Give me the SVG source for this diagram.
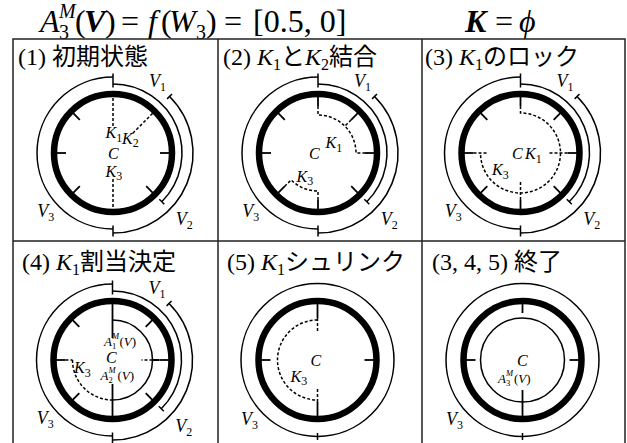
<svg xmlns="http://www.w3.org/2000/svg" width="627" height="443" viewBox="0 0 627 443">
<style>
.thick{fill:none;stroke:#000;stroke-width:6.5}
.thin{fill:none;stroke:#000;stroke-width:1.5}
.tk{fill:none;stroke:#000;stroke-width:1.8}
.dash{fill:none;stroke:#000;stroke-width:1.5;stroke-dasharray:3 2}
.grid{fill:none;stroke:#222;stroke-width:1.5}
text{font-family:"Liberation Serif",serif;fill:#000}
.i{font-style:italic}
.b{font-weight:bold}
.j{font-family:"Noto Sans CJK JP",sans-serif}
.t{font-size:24px}
.h{font-size:32px}
.hs{font-size:20px}
.v{font-size:18px}
.k{font-size:16px}
.s{font-size:12px}
.a{font-size:13px}
.as{font-size:8.5px}
</style>
<defs>
<circle id="ring" r="59" class="thick"/>
<g id="varcs">
<path class="thin" d="M0,-69A69,69 0 0 1 48.79,48.79"/>
<path class="thin" d="M56.57,-56.57A80,80 0 0 1 0,80"/>
<path class="thin" d="M0,76A76,76 0 0 1 0,-76"/>
<path class="thin" d="M0,-65.5V-72.5M46.3,46.3L51.3,51.3M54.1,-54.1L59.0,-59.0M0,76.5V83.5M0,-72.5V-79.5M0,72.5V79.5"/>
</g>
<path id="t45" class="tk" d="M33.2,-33.2L40.3,-40.3"/>
<path id="t90" class="tk" d="M47,0H57"/>
<path id="t135" class="tk" d="M33.2,33.2L40.3,40.3"/>
<path id="t225" class="tk" d="M-33.2,33.2L-40.3,40.3"/>
<path id="t270" class="tk" d="M-47,0H-57"/>
<path id="t315" class="tk" d="M-33.2,-33.2L-40.3,-40.3"/>
<path id="t0" class="tk" d="M0,-47V-57"/>
<path id="t180" class="tk" d="M0,47V57"/>
</defs>

<g id="header">
<text class="h i" x="40" y="32">A</text>
<text class="hs i" x="59" y="18">M</text>
<text class="hs" x="59" y="39">3</text>
<text class="h" x="75" y="32">(</text>
<text class="h i b" x="84" y="32">V</text>
<text class="h" x="105" y="32">)</text>
<text class="h" x="121" y="32">=</text>
<text class="h i" x="148" y="32">f</text>
<text class="h" x="161" y="32">(</text>
<text class="h i" x="169" y="32">W</text>
<text class="hs" x="196" y="39">3</text>
<text class="h" x="206" y="32">)</text>
<text class="h" x="224" y="32">=</text>
<text class="h" x="253" y="32">[0.5, 0]</text>
<text class="h i b" x="465" y="32">K</text>
<text class="h" x="495" y="32">=</text>
<text class="h i" x="519" y="32">ϕ</text>
</g>

<g id="table">
<path class="grid" d="M13,443V39H625V443M218,39V443M422,39V443M13,241H625"/>
</g>

<g id="cell1">
<text class="t" x="18" y="65">(1) <tspan class="j">初期状態</tspan></text>
<g transform="translate(113,153)">
<use href="#ring"/><use href="#varcs"/>
<use href="#t90"/><use href="#t135"/><use href="#t225"/><use href="#t270"/><use href="#t315"/>
<path class="dash" d="M0,-55V-26M0,26V55M39.6,-39.6L18.5,-18.5"/>
</g>
<text class="v" x="149" y="86.5"><tspan class="i">V</tspan><tspan class="s" dy="4">1</tspan></text>
<text class="v" x="175.7" y="225"><tspan class="i">V</tspan><tspan class="s" dy="4">2</tspan></text>
<text class="v" x="37.3" y="216.7"><tspan class="i">V</tspan><tspan class="s" dy="4">3</tspan></text>
<text class="k" x="105.5" y="138.3"><tspan class="i">K</tspan><tspan class="s" dy="3.5">1</tspan></text>
<text class="k" x="122" y="143.5"><tspan class="i">K</tspan><tspan class="s" dy="3.5">2</tspan></text>
<text class="k i" x="108" y="158.5">C</text>
<text class="k" x="105.5" y="176.5"><tspan class="i">K</tspan><tspan class="s" dy="3.5">3</tspan></text>
</g>

<g id="cell2">
<text class="t" x="223" y="65">(2) <tspan class="i">K</tspan><tspan font-size="16" dy="5">1</tspan><tspan class="j" dy="-5">と</tspan><tspan class="i">K</tspan><tspan font-size="16" dy="5">2</tspan><tspan class="j" dy="-5">結合</tspan></text>
<g transform="translate(318,153)">
<use href="#ring"/><use href="#varcs"/>
<use href="#t0"/><use href="#t45"/><use href="#t90"/><use href="#t135"/><use href="#t180"/><use href="#t225"/><use href="#t270"/><use href="#t315"/>
<path class="dash" d="M0,-47V-38A38,38 0 0 1 38,0H47M33.2,-33.2L26.9,-26.9"/>
<path class="dash" d="M0,47V38A38,38 0 0 1 -26.9,26.9L-33.2,33.2"/>
</g>
<text class="v" x="354" y="86.5"><tspan class="i">V</tspan><tspan class="s" dy="4">1</tspan></text>
<text class="v" x="380.7" y="225"><tspan class="i">V</tspan><tspan class="s" dy="4">2</tspan></text>
<text class="v" x="242.3" y="216.7"><tspan class="i">V</tspan><tspan class="s" dy="4">3</tspan></text>
<text class="k" x="325.5" y="148.3"><tspan class="i">K</tspan><tspan class="s" dy="3.5">1</tspan></text>
<text class="k i" x="309" y="159">C</text>
<text class="k" x="296.5" y="181.5"><tspan class="i">K</tspan><tspan class="s" dy="3.5">3</tspan></text>
</g>

<g id="cell3">
<text class="t" x="425" y="65">(3) <tspan class="i">K</tspan><tspan font-size="16" dy="5">1</tspan><tspan class="j" dy="-5">のロック</tspan></text>
<g transform="translate(520.5,153)">
<use href="#ring"/><use href="#varcs"/>
<use href="#t0"/><use href="#t45"/><use href="#t90"/><use href="#t135"/><use href="#t180"/><use href="#t225"/><use href="#t270"/><use href="#t315"/>
<path class="dash" d="M0,-47V-40A40,40 0 0 1 40,0A40,40 0 0 1 0,40A40,40 0 0 1 -40,0"/>
<path class="dash" d="M47,0H28M0,47V28M-47,0H-32"/>
</g>
<text class="v" x="556.5" y="86.5"><tspan class="i">V</tspan><tspan class="s" dy="4">1</tspan></text>
<text class="v" x="583.2" y="225"><tspan class="i">V</tspan><tspan class="s" dy="4">2</tspan></text>
<text class="v" x="444.8" y="216.7"><tspan class="i">V</tspan><tspan class="s" dy="4">3</tspan></text>
<text class="k i" x="512" y="159">C</text>
<text class="k" x="525" y="159"><tspan class="i">K</tspan><tspan class="s" dy="3.5">1</tspan></text>
<text class="k" x="492" y="175"><tspan class="i">K</tspan><tspan class="s" dy="3.5">3</tspan></text>
</g>

<g id="cell4">
<text class="t" x="22" y="270">(4) <tspan class="i">K</tspan><tspan font-size="16" dy="5">1</tspan><tspan class="j" dy="-5">割当決定</tspan></text>
<g transform="translate(112.5,360)">
<use href="#ring"/><use href="#varcs"/>
<use href="#t45"/><use href="#t90"/><use href="#t135"/><use href="#t225"/><use href="#t270"/><use href="#t315"/>
<path class="tk" d="M0,-57V-22M0,24V57M40,0H47"/>
<path class="thin" d="M0,-40A40,40 0 0 1 40,0A40,40 0 0 1 0,40"/>
<path class="dash" d="M40,0H29M-47,0H-40M-40,0A40,40 0 0 0 0,40"/>
</g>
<text class="v" x="148.5" y="293.5"><tspan class="i">V</tspan><tspan class="s" dy="4">1</tspan></text>
<text class="v" x="175.2" y="432"><tspan class="i">V</tspan><tspan class="s" dy="4">2</tspan></text>
<text class="v" x="36.8" y="423.7"><tspan class="i">V</tspan><tspan class="s" dy="4">3</tspan></text>
<text class="a i" x="104" y="346">A</text>
<text class="as i" x="112" y="339">M</text>
<text class="as" x="112" y="348.5">1</text>
<text class="a" x="119.5" y="346">(<tspan class="i">V</tspan>)</text>
<text class="k i" x="106" y="362.5">C</text>
<text class="a i" x="100.5" y="380">A</text>
<text class="as i" x="108.5" y="373">M</text>
<text class="as" x="108.5" y="382.5">2</text>
<text class="a" x="117.5" y="380">(<tspan class="i">V</tspan>)</text>
<text class="k" x="74" y="373.3"><tspan class="i">K</tspan><tspan class="s" dy="3.5">3</tspan></text>
</g>

<g id="cell5">
<text class="t" x="227" y="270">(5) <tspan class="i">K</tspan><tspan font-size="16" dy="5">1</tspan><tspan class="j" dy="-5">シュリンク</tspan></text>
<g transform="translate(317.5,360)">
<use href="#ring"/>
<circle class="thin" r="76.5"/>
<path class="thin" d="M0,73V80"/>
<use href="#t90"/><use href="#t270"/>
<path class="tk" d="M0,-57V-42M0,42V57"/>
<path class="dash" d="M0,-42V-29M0,42V29M0,-40A40,40 0 0 0 0,40"/>
</g>
<text class="v" x="241" y="425"><tspan class="i">V</tspan><tspan class="s" dy="4">3</tspan></text>
<text class="k i" x="310.5" y="366">C</text>
<text class="k" x="290.5" y="381.5"><tspan class="i">K</tspan><tspan class="s" dy="3.5">3</tspan></text>
</g>

<g id="cell6">
<text class="t" x="432" y="270">(3, 4, 5) <tspan class="j">終了</tspan></text>
<g transform="translate(522.5,360)">
<use href="#ring"/>
<circle class="thin" r="76.5"/>
<circle class="thin" r="42"/>
<path class="thin" d="M0,73V80"/>
<use href="#t0"/><use href="#t90"/><use href="#t270"/>
<path class="tk" d="M0,30V57"/>
</g>
<text class="v" x="446" y="425"><tspan class="i">V</tspan><tspan class="s" dy="4">3</tspan></text>
<text class="k i" x="517" y="366">C</text>
<text class="a i" x="498" y="382.7">A</text>
<text class="as i" x="506" y="375.5">M</text>
<text class="as" x="506" y="385.5">3</text>
<text class="a" x="514" y="382.7">(<tspan class="i">V</tspan>)</text>
</g>
</svg>
